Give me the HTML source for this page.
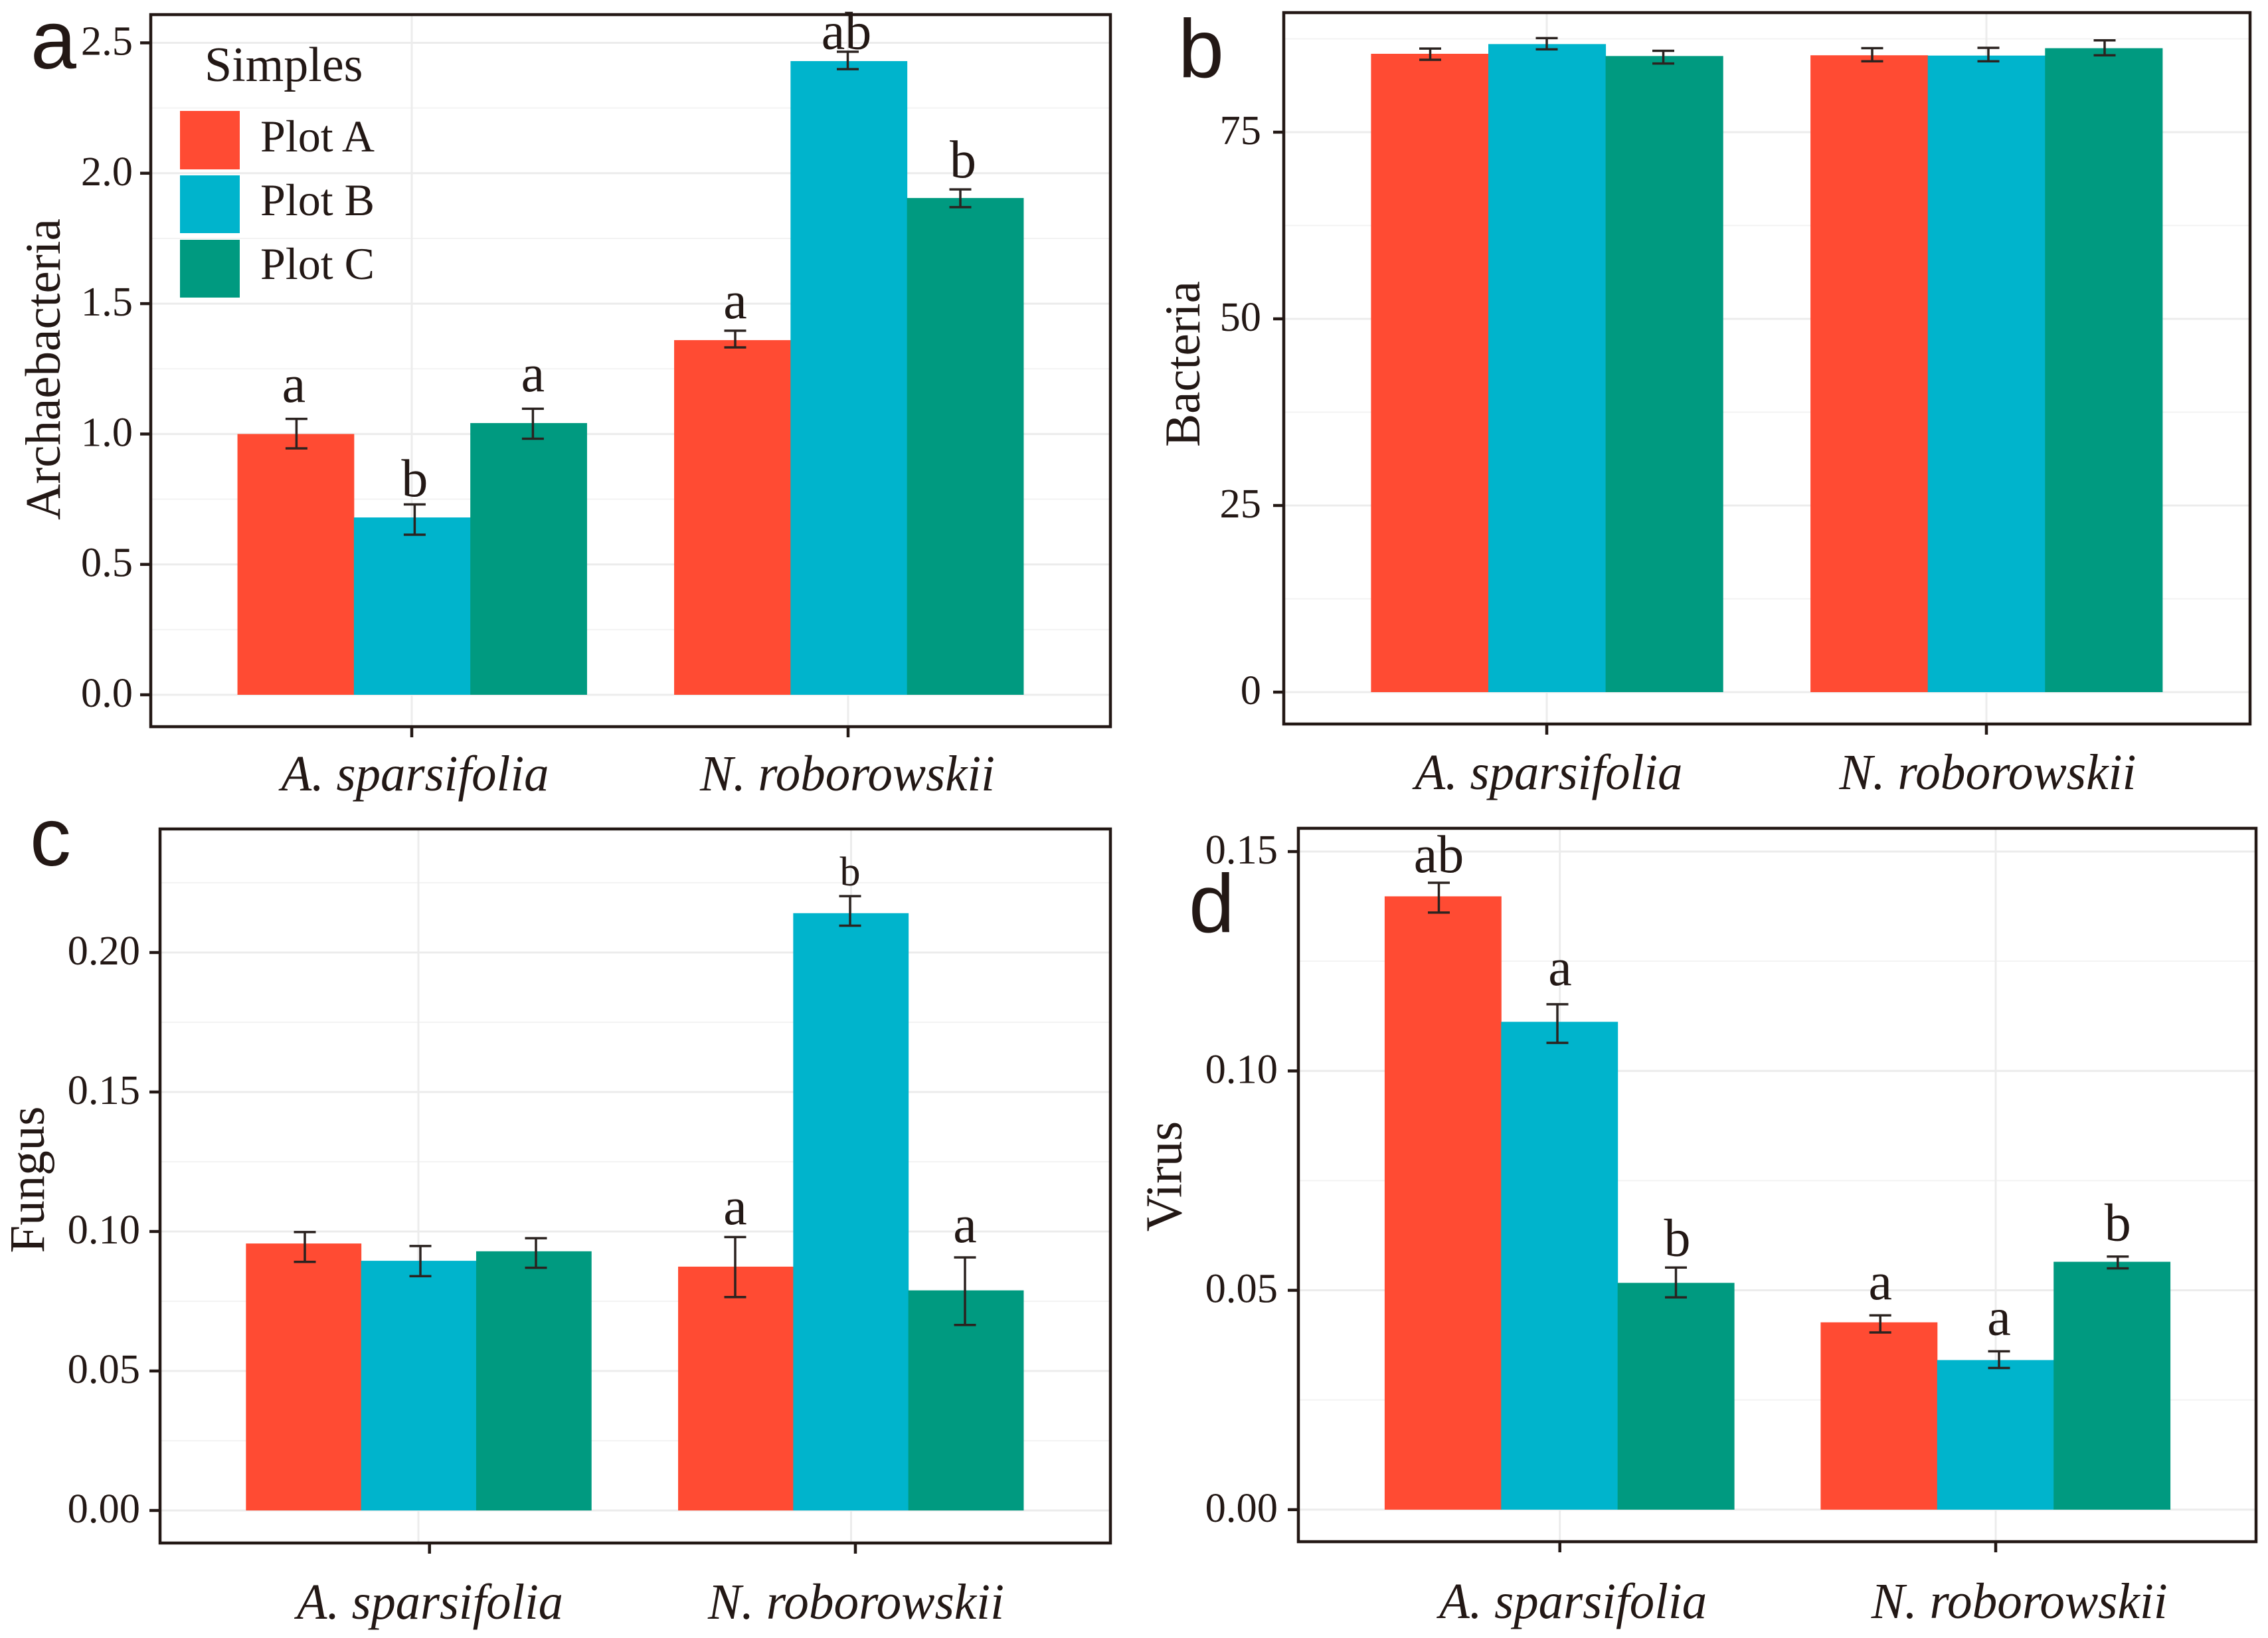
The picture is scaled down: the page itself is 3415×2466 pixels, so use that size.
<!DOCTYPE html>
<html lang="en">
<head>
<meta charset="utf-8">
<title>Relative abundance by plot</title>
<style>
html,body{margin:0;padding:0;background:#fff;}
svg{display:block;}
text{font-family:"Liberation Serif",serif;fill:#231815;}
.panel-letter{font-family:"Liberation Sans",sans-serif;font-size:124px;}
</style>
</head>
<body>
<svg id="figure" xmlns="http://www.w3.org/2000/svg" width="3415" height="2466" viewBox="0 0 3415 2466">
<rect x="0" y="0" width="3415" height="2466" fill="#ffffff"></rect>
<g id="panels"></g>
<text class="panel-letter" x="46" y="103">a</text>
<text class="panel-letter" x="1774" y="116">b</text>
<text class="panel-letter" x="45" y="1303">c</text>
<text class="panel-letter" x="1790" y="1403">d</text>
<g>
<text x="308" y="122" font-size="74">Simples</text>
<rect x="271" y="167" width="90" height="88" fill="#FF4B33"></rect>
<rect x="271" y="264" width="90" height="87" fill="#00B4CC"></rect>
<rect x="271" y="361" width="90" height="87" fill="#009A80"></rect>
<text x="392" y="228" font-size="68">Plot A</text>
<text x="392" y="324" font-size="68">Plot B</text>
<text x="392" y="420" font-size="68">Plot C</text>
</g>
</svg>
<script>
// Shared categories and series
const categories = ['A. sparsifolia', 'N. roborowskii'];
const seriesNames = ['Plot A', 'Plot B', 'Plot C'];
const seriesColors = ['#FF4B33', '#00B4CC', '#009A80'];

// Panel a: Archaebacteria (each row = one plot, each column = one species)
const archaeaValues = [[1.0, 1.36], [0.68, 2.43], [1.042, 1.905]];
const archaeaLow = [[0.945, 1.332], [0.614, 2.399], [0.982, 1.87]];
const archaeaHigh = [[1.058, 1.396], [0.73, 2.466], [1.097, 1.938]];
const archaeaLetters = [['a', 'a'], ['b', 'ab'], ['a', 'b']];
const archaeaLetterAt = [[1.123, 1.444], [0.762, 2.477], [1.164, 1.984]];
const archaeaMajorTicks = [0, 0.5, 1, 1.5, 2, 2.5];
const archaeaTickLabels = ['0.0', '0.5', '1.0', '1.5', '2.0', '2.5'];
const archaeaMinorTicks = [0.25, 0.75, 1.25, 1.75, 2.25];

// Panel b: Bacteria
const bacteriaValues = [[85.5, 85.3], [86.8, 85.26], [85.2, 86.25]];
const bacteriaLow = [[84.7, 84.5], [86.1, 84.5], [84.2, 85.3]];
const bacteriaHigh = [[86.2, 86.25], [87.6, 86.3], [85.9, 87.3]];
const bacteriaLetters = [['', ''], ['', ''], ['', '']];
const bacteriaLetterAt = [[0, 0], [0, 0], [0, 0]];
const bacteriaMajorTicks = [0, 25, 50, 75];
const bacteriaTickLabels = ['0', '25', '50', '75'];
const bacteriaMinorTicks = [12.5, 37.5, 62.5, 87.5];

// Panel c: Fungus
const fungusValues = [[0.0957, 0.0874], [0.0895, 0.2141], [0.0929, 0.0789]];
const fungusLow = [[0.0891, 0.0765], [0.084, 0.2096], [0.087, 0.0665]];
const fungusHigh = [[0.0998, 0.098], [0.0948, 0.2202], [0.0976, 0.0907]];
const fungusLetters = [['', 'a'], ['', 'b'], ['', 'a']];
const fungusLetterAt = [[0, 0.1026], [0, 0.224], [0, 0.0962]];
const fungusMajorTicks = [0, 0.05, 0.1, 0.15, 0.2];
const fungusTickLabels = ['0.00', '0.05', '0.10', '0.15', '0.20'];
const fungusMinorTicks = [0.025, 0.075, 0.125, 0.175, 0.225];

// Panel d: Virus
const virusValues = [[0.1398, 0.0427], [0.1112, 0.0341], [0.0517, 0.0565]];
const virusLow = [[0.1361, 0.0404], [0.1064, 0.0323], [0.0484, 0.055]];
const virusHigh = [[0.1429, 0.0443], [0.1152, 0.0361], [0.0552, 0.0577]];
const virusLetters = [['ab', 'a'], ['a', 'a'], ['b', 'b']];
const virusLetterAt = [[0.1453, 0.048], [0.1196, 0.0399], [0.0579, 0.0614]];
const virusMajorTicks = [0, 0.05, 0.1, 0.15];
const virusTickLabels = ['0.00', '0.05', '0.10', '0.15'];
const virusMinorTicks = [0.025, 0.075, 0.125];

const NS = 'http://www.w3.org/2000/svg';
const INK = '#231815';

function make(tag, parent, attrs) {
  const el = document.createElementNS(NS, tag);
  for (const k in attrs) el.setAttribute(k, attrs[k]);
  parent.appendChild(el);
  return el;
}

function slug(s) {
  return s.toLowerCase().replace(/[^a-z0-9]+/g, '-');
}

function drawPanel(cfg) {
  const yAxis = v => cfg.zeroY - v * cfg.pxPerUnit;
  const barLeft = (g, s) => cfg.groupCenters[g] + (s - 1.5) * cfg.barWidth;
  const errX = (g, s) => cfg.errCenters[g] + (s - 1) * cfg.errSpacing[g];

  const root = document.getElementById('panels');
  const group = make('g', root, {});
  
  

  // Gridlines
  cfg.minor.forEach(v => {
    const line = make('line', group, { x1: cfg.left, x2: cfg.right, y1: yAxis(v), y2: yAxis(v), stroke: '#f3f3f3', 'stroke-width': 2 });
    
    
  });
  cfg.major.forEach(v => {
    const line = make('line', group, { x1: cfg.left, x2: cfg.right, y1: yAxis(v), y2: yAxis(v), stroke: '#ececec', 'stroke-width': 3 });
    
    
  });
  cfg.groupGrid.forEach(x => {
    const line = make('line', group, { x1: x, x2: x, y1: cfg.top, y2: cfg.bottom, stroke: '#ececec', 'stroke-width': 3 });
    
    
  });

  // Bars
  seriesNames.forEach((name, s) => {
    categories.forEach((cat, g) => {
      const top = yAxis(cfg.values[s][g]);
      const bar = make('rect', group, { x: barLeft(g, s), y: top, width: cfg.barWidth + 0.5, height: cfg.zeroY - top, fill: seriesColors[s] });
      
      
    });
  });

  // Error bars and significance letters
  seriesNames.forEach((name, s) => {
    categories.forEach((cat, g) => {
      const x = errX(g, s);
      const yLow = yAxis(cfg.low[s][g]);
      const yHigh = yAxis(cfg.high[s][g]);
      const err = make('path', group, {
        d: 'M' + (x - 16.5) + ' ' + yHigh + 'H' + (x + 16.5) + 'M' + x + ' ' + yHigh + 'V' + yLow + 'M' + (x - 16.5) + ' ' + yLow + 'H' + (x + 16.5),
        fill: 'none', stroke: '#2b2320', 'stroke-width': 3.5
      });
      
      

      const letter = cfg.letters[s][g];
      if (letter) {
        const t = make('text', group, { x: x + cfg.letterShift[s][g], y: yAxis(cfg.letterAt[s][g]), 'text-anchor': 'middle', 'font-size': (cfg.id === 'fungus' && letter === 'b') ? 62 : 80 });
        t.textContent = letter;
        
        
      }
    });
  });

  // Panel border
  const border = make('rect', group, { x: cfg.left, y: cfg.top, width: cfg.right - cfg.left, height: cfg.bottom - cfg.top, fill: 'none', stroke: INK, 'stroke-width': 4.5 });
  
  

  // Y axis ticks and labels
  cfg.major.forEach((v, i) => {
    const tick = make('line', group, { x1: cfg.left - 16, x2: cfg.left, y1: yAxis(v), y2: yAxis(v), stroke: INK, 'stroke-width': 4.5 });
    
    
    const label = make('text', group, { x: cfg.tickLabelRight, y: yAxis(v) + 18, 'text-anchor': 'end', 'font-size': 62.5 });
    label.textContent = cfg.tickLabels[i];
    
    
  });

  // X axis ticks and labels
  categories.forEach((cat, g) => {
    const tx = cfg.tickX[g];
    const tick = make('line', group, { x1: tx, x2: tx, y1: cfg.bottom, y2: cfg.bottom + 16, stroke: INK, 'stroke-width': 4.5 });
    
    
    const label = make('text', group, { x: cfg.xLabelCenters[g], y: cfg.xLabelBaseline, 'text-anchor': 'middle', 'font-size': 76, 'font-style': 'italic', textLength: cfg.xLabelWidths[g], lengthAdjust: 'spacingAndGlyphs' });
    label.textContent = cat;
    
    
  });

  // Y axis title
  const title = make('text', group, { transform: 'translate(' + cfg.titleX + ' ' + cfg.titleY + ') rotate(-90)', 'text-anchor': 'middle', 'font-size': cfg.titleSize });
  title.textContent = cfg.title;
  
  
}

drawPanel({
  id: 'archaea', title: 'Archaebacteria', titleSize: 75, left: 227, right: 1672, top: 22, bottom: 1094,
  zeroY: 1046, pxPerUnit: 392.6, barWidth: 175.3,
  groupCenters: [620.5, 1278], groupGrid: [620, 1277], tickX: [620, 1277],
  errCenters: [624.4, 1276.5], errSpacing: [178, 169.5],
  letterShift: [[-4, 0], [0, -2], [0, 4]],
  values: archaeaValues, low: archaeaLow, high: archaeaHigh, letters: archaeaLetters, letterAt: archaeaLetterAt,
  major: archaeaMajorTicks, minor: archaeaMinorTicks, tickLabels: archaeaTickLabels,
  tickLabelRight: 200, xLabelCenters: [625, 1276], xLabelBaseline: 1190, xLabelWidths: [403, 444],
  titleX: 90, titleY: 556
});
drawPanel({
  id: 'bacteria', title: 'Bacteria', titleSize: 75, left: 1933, right: 3388, top: 19, bottom: 1090,
  zeroY: 1042, pxPerUnit: 11.24, barWidth: 176.6,
  groupCenters: [2329.3, 2991], groupGrid: [2329, 2991], tickX: [2329, 2991],
  errCenters: [2329, 2994], errSpacing: [175.5, 175],
  letterShift: [[0, 0], [0, 0], [0, 0]],
  values: bacteriaValues, low: bacteriaLow, high: bacteriaHigh, letters: bacteriaLetters, letterAt: bacteriaLetterAt,
  major: bacteriaMajorTicks, minor: bacteriaMinorTicks, tickLabels: bacteriaTickLabels,
  tickLabelRight: 1899, xLabelCenters: [2332, 2993], xLabelBaseline: 1188, xLabelWidths: [403, 447],
  titleX: 1806, titleY: 548
});
drawPanel({
  id: 'fungus', title: 'Fungus', titleSize: 75, left: 241, right: 1672, top: 1248, bottom: 2323,
  zeroY: 2274, pxPerUnit: 4200, barWidth: 173.3,
  groupCenters: [630.3, 1281], groupGrid: [630, 1281.5], tickX: [646.7, 1288],
  errCenters: [633, 1280], errSpacing: [174, 173],
  letterShift: [[0, 0], [0, 0], [0, 0]],
  values: fungusValues, low: fungusLow, high: fungusHigh, letters: fungusLetters, letterAt: fungusLetterAt,
  major: fungusMajorTicks, minor: fungusMinorTicks, tickLabels: fungusTickLabels,
  tickLabelRight: 211, xLabelCenters: [647.5, 1289], xLabelBaseline: 2437, xLabelWidths: [401, 446],
  titleX: 66, titleY: 1776
});
drawPanel({
  id: 'virus', title: 'Virus', titleSize: 77, left: 1955, right: 3397, top: 1247, bottom: 2321,
  zeroY: 2272.8, pxPerUnit: 6605, barWidth: 175.4,
  groupCenters: [2348, 3004.5], groupGrid: [2348.7, 3005], tickX: [2348.7, 3005],
  errCenters: [2345, 3010], errSpacing: [178.5, 178.8],
  letterShift: [[0, 0], [4, 0], [2, 0]],
  values: virusValues, low: virusLow, high: virusHigh, letters: virusLetters, letterAt: virusLetterAt,
  major: virusMajorTicks, minor: virusMinorTicks, tickLabels: virusTickLabels,
  tickLabelRight: 1924, xLabelCenters: [2368.6, 3040.7], xLabelBaseline: 2436, xLabelWidths: [403, 446],
  titleX: 1778.6, titleY: 1771
});
</script>
</body>
</html>
